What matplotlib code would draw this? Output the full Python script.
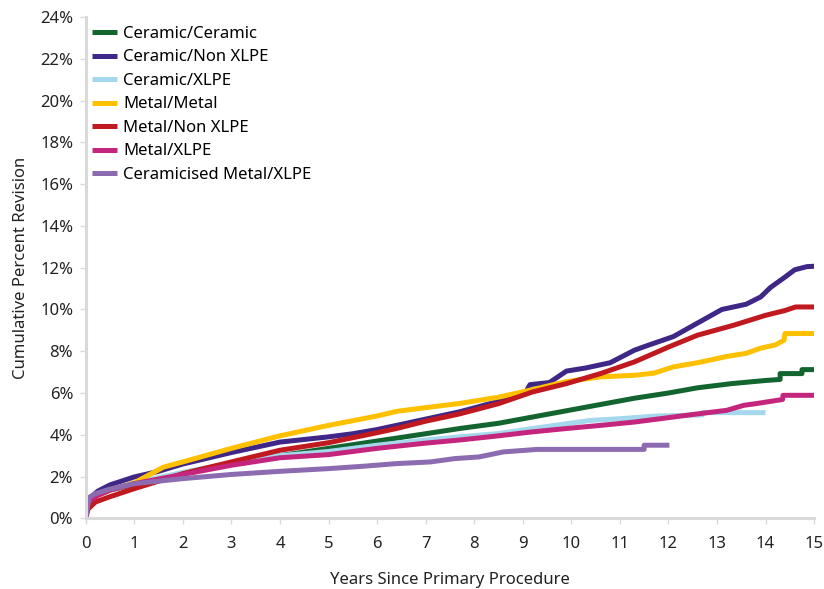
import matplotlib
matplotlib.use("Agg")
import matplotlib.pyplot as plt
from matplotlib.ticker import FuncFormatter

plt.rcParams["font.family"] = ["Noto Sans", "DejaVu Sans"]

# Kaplan-Meier style curves (years, cumulative % revision)
cc_t = [0, 0.05, 0.25, 0.5, 1, 2, 3, 4, 5, 6, 7, 7.7, 8.5, 9.2, 9.9, 10.6, 11.3, 12.0,
        12.6, 13.3, 14.0, 14.3, 14.3, 14.75, 14.75, 15]
cc_v = [0, 0.8, 1.1, 1.35, 1.62, 2.15, 2.6, 3.0, 3.35, 3.7, 4.05, 4.3, 4.55, 4.85, 5.15,
        5.45, 5.75, 6.0, 6.25, 6.45, 6.6, 6.65, 6.93, 6.93, 7.12, 7.12]

cn_t = [0, 0.03, 0.1, 0.25, 0.5, 1, 1.5, 2, 3, 4, 5, 5.5, 6, 6.4, 7, 7.7, 8.5, 9.05, 9.15,
        9.55, 9.9, 10.3, 10.8, 11.3, 11.6, 12.1, 12.6, 13.1, 13.6, 13.9, 14.1, 14.4, 14.6,
        14.85, 15]
cn_v = [0, 0.7, 1.0, 1.3, 1.6, 1.98, 2.25, 2.6, 3.15, 3.65, 3.9, 4.05, 4.25, 4.45, 4.75,
        5.1, 5.6, 6.0, 6.4, 6.5, 7.05, 7.2, 7.45, 8.05, 8.3, 8.7, 9.35, 10.0, 10.25, 10.6,
        11.05, 11.55, 11.9, 12.05, 12.07]

cx_t = [0, 0.05, 0.25, 0.5, 1, 2, 3, 4, 5, 6, 7, 7.7, 8.5, 9.2, 9.97, 10.4, 11.0, 11.75,
        12.7, 12.7, 14.0]
cx_v = [0, 0.8, 1.1, 1.35, 1.7, 2.2, 2.65, 3.0, 3.2, 3.5, 3.75, 3.9, 4.06, 4.3, 4.55,
        4.69, 4.77, 4.9, 4.95, 5.06, 5.06]

mm_t = [0, 0.05, 0.25, 0.5, 1, 1.6, 2, 3, 4, 5, 6, 6.4, 7, 7.7, 8.5, 9.14, 9.9, 10.6,
        11.3, 11.7, 12.1, 12.6, 13.2, 13.6, 13.9, 14.2, 14.38, 14.4, 15]
mm_v = [0, 0.8, 1.1, 1.35, 1.7, 2.45, 2.7, 3.35, 3.95, 4.45, 4.9, 5.12, 5.3, 5.5, 5.8,
        6.13, 6.55, 6.77, 6.85, 6.95, 7.25, 7.45, 7.75, 7.9, 8.15, 8.3, 8.53, 8.85, 8.85]

mn_t = [0, 0.05, 0.2, 0.48, 1, 2, 3, 4, 5, 6, 6.4, 7, 7.7, 8.5, 9.2, 9.9, 10.6, 11.3,
        12.0, 12.6, 13.35, 14.0, 14.4, 14.62, 15]
mn_v = [0, 0.45, 0.78, 1.02, 1.42, 2.14, 2.7, 3.26, 3.62, 4.1, 4.3, 4.65, 5.0, 5.49,
        6.05, 6.45, 6.93, 7.49, 8.2, 8.77, 9.25, 9.72, 9.95, 10.12, 10.12]

mx_t = [0, 0.05, 0.25, 0.5, 1, 2, 3, 4, 5, 6, 6.4, 7, 7.7, 8.5, 9.2, 9.9, 10.6, 11.3,
        12.0, 12.6, 13.2, 13.55, 13.8, 14.35, 14.36, 15]
mx_v = [0, 0.8, 1.1, 1.35, 1.66, 2.1, 2.54, 2.9, 3.05, 3.35, 3.45, 3.6, 3.75, 3.95,
        4.14, 4.3, 4.45, 4.61, 4.82, 5.0, 5.17, 5.41, 5.49, 5.69, 5.89, 5.89]

cm_t = [0, 0.07, 0.2, 0.5, 1, 2, 3, 4, 5, 5.7, 6.4, 7.1, 7.6, 8.1, 8.6, 9.3, 11.5, 11.5,
        12.02]
cm_v = [0, 1.0, 1.18, 1.4, 1.66, 1.9, 2.1, 2.25, 2.38, 2.49, 2.62, 2.7, 2.86, 2.94,
        3.18, 3.3, 3.3, 3.5, 3.5]

series = [
    ("Ceramic/Ceramic", cc_t, cc_v, "#12652f"),
    ("Ceramic/Non XLPE", cn_t, cn_v, "#3f2787"),
    ("Ceramic/XLPE", cx_t, cx_v, "#a5d8ec"),
    ("Metal/Metal", mm_t, mm_v, "#ffc000"),
    ("Metal/Non XLPE", mn_t, mn_v, "#c0191f"),
    ("Metal/XLPE", mx_t, mx_v, "#c4267e"),
    ("Ceramicised Metal/XLPE", cm_t, cm_v, "#8d6bb0"),
]

fig = plt.figure(figsize=(8.24, 5.89), dpi=100)
ax = fig.add_axes([0.104, 0.12, 0.884, 0.851])

for name, t, v, col in series:
    ax.plot(t, v, color=col, lw=3.6, label=name, solid_capstyle="butt")

ax.set_xlim(0, 15)
ax.set_ylim(0, 24)
ax.set_xticks(range(0, 16))
ax.set_yticks(range(0, 25, 2))
ax.yaxis.set_major_formatter(FuncFormatter(lambda y, _: f"{y:.0f}%"))

for side in ["top", "right"]:
    ax.spines[side].set_visible(False)
for side in ["left", "bottom"]:
    ax.spines[side].set_color("#d9d9d9")
    ax.spines[side].set_linewidth(2.2)
ax.tick_params(axis="both", colors="#d9d9d9", labelcolor="#222222", labelsize=12,
               length=4, width=1)
ax.tick_params(axis="y", pad=5)
ax.tick_params(axis="x", pad=9)

ax.set_xlabel("Years Since Primary Procedure", fontsize=12, color="#222222", labelpad=14)
ax.set_ylabel("Cumulative Percent Revision", fontsize=12, color="#222222", labelpad=8)

leg = ax.legend(loc="upper left", bbox_to_anchor=(0.0, 0.994), frameon=False, fontsize=12,
                handlelength=1.5, handletextpad=0.4, labelspacing=0.45,
                borderpad=0.25, borderaxespad=0.1)
for line in leg.get_lines():
    line.set_linewidth(3.6)

fig.savefig("out.png", dpi=100)
